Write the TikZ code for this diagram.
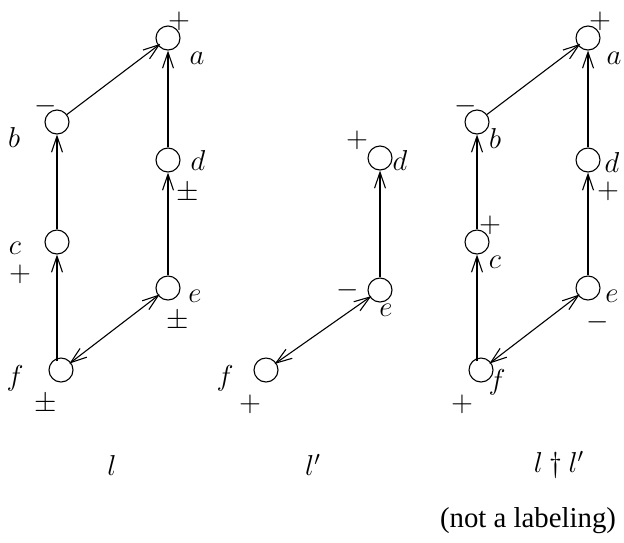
\documentclass[tikz,border=0pt]{standalone}
\usepackage{fontspec}
\setmainfont{Liberation Serif}
\usetikzlibrary{arrows.meta}
\tikzset{
  vtx/.style={circle, draw, minimum size=12pt, inner sep=0pt, line width=0.55pt},
  tipx/.tip={Straight Barb[length=8pt,width=5.5pt,line width=0.55pt]},
  arr/.style={-tipx, line width=0.55pt},
  darr/.style={tipx-tipx, line width=0.55pt},
  lab/.style={inner sep=0pt, font=\fontsize{14.4}{17}\selectfont},
}
\begin{document}
\begin{tikzpicture}[x=0.5pt,y=-0.5pt]
\useasboundingbox (0,0) rectangle (624,542);
% ---------- diagram l ----------
\node[vtx] (a1) at (168,38) {};
\node[vtx] (b1) at (57,122) {};
\node[vtx] (c1) at (57,242) {};
\node[vtx] (d1) at (168,160) {};
\node[vtx] (e1) at (168,288) {};
\node[vtx] (f1) at (61,370) {};
\draw[arr,shorten <=-2pt] (f1.north -| c1) -- (c1);
\draw[arr] (c1) -- (b1);
\draw[arr] (e1) -- (d1);
\draw[arr] (d1) -- (a1);
\draw[arr,shorten >=-1.5pt] (b1) -- (a1);
\draw[darr,shorten >=-1pt,shorten <=-1pt] (e1) -- (f1);
\node[lab] (pa1) at (179,21) {$+$};
\node[lab] (la1) at (197,58) {$a$};
\node[lab] (mb1) at (46,106) {$-$};
\node[lab] (lb1) at (14,137) {$b$};
\node[lab] (ld1) at (198,160) {$d$};
\node[lab] (pd1) at (188,193) {$\pm$};
\node[lab] (lc1) at (15,248) {$c$};
\node[lab] (pc1) at (20,274) {$+$};
\node[lab] (le1) at (195,296) {$e$};
\node[lab] (pe1) at (178,321) {$\pm$};
\node[lab] (lf1) at (15,378) {$f$};
\node[lab] (pf1) at (46,404) {$\pm$};
\node[lab] (n1) at (112,465) {$l$};
% ---------- diagram l' ----------
\node[vtx] (d2) at (380,158) {};
\node[vtx] (e2) at (380,290) {};
\node[vtx] (f2) at (266,370) {};
\draw[arr] (e2) -- (d2);
\draw[darr,shorten >=-1pt,shorten <=-1pt] (e2) -- (f2);
\node[lab] (pd2) at (357,140) {$+$};
\node[lab] (ld2) at (400,160) {$d$};
\node[lab] (me2) at (348,290) {$-$};
\node[lab] (le2) at (386,310) {$e$};
\node[lab] (lf2) at (225,378) {$f$};
\node[lab] (pf2) at (250,404) {$+$};
\node[lab] (n2) at (313,465) {$l'$};
% ---------- diagram l dagger l' ----------
\node[vtx] (a3) at (588,38) {};
\node[vtx] (b3) at (477,122) {};
\node[vtx] (c3) at (477,242) {};
\node[vtx] (d3) at (588,160) {};
\node[vtx] (e3) at (588,288) {};
\node[vtx] (f3) at (481,370) {};
\draw[arr,shorten <=-2pt] (f3.north -| c3) -- (c3);
\draw[arr] (c3) -- (b3);
\draw[arr] (e3) -- (d3);
\draw[arr] (d3) -- (a3);
\draw[arr,shorten >=-1.5pt] (b3) -- (a3);
\draw[darr,shorten >=-1pt,shorten <=-1pt] (e3) -- (f3);
\node[lab] (pa3) at (600,21) {$+$};
\node[lab] (la3) at (614,58) {$a$};
\node[lab] (mb3) at (466,106) {$-$};
\node[lab] (lb3) at (495,138) {$b$};
\node[lab] (pc3) at (490,225) {$+$};
\node[lab] (lc3) at (495,262) {$c$};
\node[lab] (ld3) at (612,162) {$d$};
\node[lab] (pd3) at (608,191) {$+$};
\node[lab] (le3) at (612,296) {$e$};
\node[lab] (me3) at (598,322) {$-$};
\node[lab] (lf3) at (497,382) {$f$};
\node[lab] (pf3) at (462,404) {$+$};
\node[lab] (n3) at (559,465) {$l\dagger l'$};
\node[lab] (note) at (528,521) {(not a labeling)};
\end{tikzpicture}
\end{document}
